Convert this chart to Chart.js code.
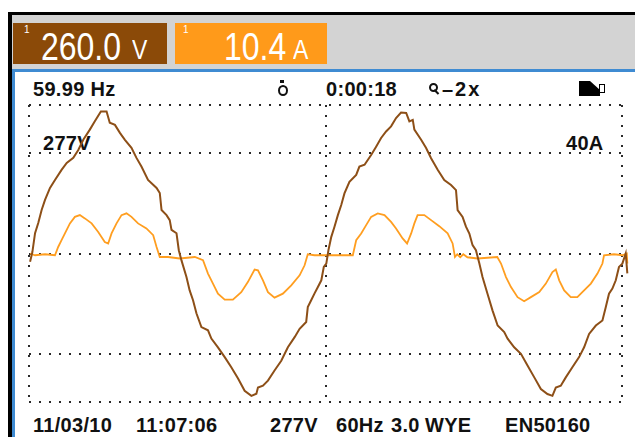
<!DOCTYPE html>
<html><head><meta charset="utf-8">
<script src="https://cdn.jsdelivr.net/npm/chart.js@4.4.0/dist/chart.umd.min.js"></script>
<style>
html,body{margin:0;padding:0;background:#fff;width:635px;height:437px;overflow:hidden;position:relative;font-family:"Liberation Sans",Arial,sans-serif;}
.abs{position:absolute;}
#frame{left:8px;top:12px;width:627px;height:425px;background:#000;}
#gray{left:12px;top:15px;width:623px;height:54px;background:#d3d3d3;}
#blue{left:12px;top:69px;width:623px;height:368px;background:#3f8bd2;}
#white{left:15px;top:72px;width:620px;height:365px;background:#fff;}
.box{top:23px;height:41px;}
#bV{left:13px;width:154px;background:#8b4a08;}
#bA{left:175px;width:152px;background:#ff9a1a;}
.big{color:#fff;font-size:39px;line-height:39px;transform:scaleX(0.82);transform-origin:0 0;white-space:nowrap;}
.unit{color:#fff;font-size:28px;line-height:28px;transform:scaleX(0.82);transform-origin:0 0;}
.sup{color:#fff;font-size:10px;line-height:10px;}
.t{font-weight:bold;font-size:20px;line-height:20px;color:#111;white-space:nowrap;letter-spacing:0.3px;}
#sw{left:278px;top:85px;width:6px;height:7px;border:2px solid #111;border-radius:50%;}
#swk{left:280px;top:80px;width:4px;height:3px;background:#111;}
#mg{left:429px;top:83px;width:5px;height:5px;border:2px solid #111;border-radius:50%;}
#mgh{left:435px;top:89px;width:6px;height:2px;background:#111;transform:rotate(45deg);transform-origin:0 0;}
#bat{left:579px;top:81px;width:21px;height:15px;background:#000;}
#batn{left:599px;top:84px;width:4px;height:7px;border:1.5px solid #000;background:#fff;}
#batw{left:590px;top:81px;width:0;height:0;border-left:10px solid transparent;border-top:9px solid #fff;}
canvas{position:absolute;left:0;top:0;}
</style>
</head>
<body>
<div id="frame" class="abs"></div>
<div id="gray" class="abs"></div>
<div id="blue" class="abs"></div>
<div id="white" class="abs"></div>
<div id="bV" class="abs box"></div>
<div id="bA" class="abs box"></div>
<div class="abs sup" style="left:24px;top:25px">1</div>
<div class="abs big" style="left:41px;top:27px">260.0</div>
<div class="abs unit" style="left:132px;top:36px">V</div>
<div class="abs sup" style="left:183px;top:25px">1</div>
<div class="abs big" style="left:224px;top:27px">10.4</div>
<div class="abs unit" style="left:293px;top:36px">A</div>

<div class="abs t" style="left:33px;top:79px">59.99 Hz</div>
<div id="swk" class="abs"></div>
<div id="sw" class="abs"></div>
<div class="abs t" style="left:326px;top:79px">0:00:18</div>
<div id="mg" class="abs"></div>
<div id="mgh" class="abs"></div>
<div class="abs t" style="left:442px;top:79px;letter-spacing:2px">–2x</div>
<div id="bat" class="abs"></div>
<div id="batw" class="abs"></div>
<div id="batn" class="abs"></div>

<div class="abs t" style="left:43px;top:133px">277V</div>
<div class="abs t" style="left:566px;top:133px">40A</div>

<div class="abs t" style="left:33px;top:415px">11/03/10</div>
<div class="abs t" style="left:136px;top:415px">11:07:06</div>
<div class="abs t" style="left:270px;top:415px">277V</div>
<div class="abs t" style="left:336px;top:415px">60Hz</div>
<div class="abs t" style="left:391px;top:415px">3.0</div>
<div class="abs t" style="left:425px;top:415px">WYE</div>
<div class="abs t" style="left:505px;top:415px">EN50160</div>

<canvas id="c" width="635" height="437"></canvas>
<script>
// time in ms
const VOLT_TIME = [0.06,0.19,0.34,0.52,0.71,0.90,1.18,1.46,1.83,2.12,
2.49,2.77,3.05,3.42,3.70,4.04,4.36,4.54,4.83,5.11,
5.39,5.76,6.04,6.32,6.69,7.17,7.35,7.45,7.73,7.91,
8.01,8.29,8.42,8.57,8.85,9.03,9.22,9.41,9.69,10.06,
10.25,10.62,11.00,11.37,11.75,12.12,12.50,12.78,12.87,13.15,
13.43,13.80,14.18,14.55,14.93,15.21,15.58,15.67,15.86,16.05,
16.23,16.43,16.57,16.71,16.83,16.99,17.17,17.36,17.55,17.73,
18.01,18.39,18.57,18.86,19.23,19.51,19.79,20.07,20.35,20.63,
20.91,21.20,21.38,21.57,21.66,22.04,22.32,22.60,22.97,23.34,
23.72,24.00,24.09,24.37,24.56,24.75,24.93,25.12,25.31,25.49,
25.77,26.05,26.34,26.71,26.90,27.27,27.65,28.02,28.40,28.77,
29.14,29.42,29.61,29.89,30.17,30.54,30.92,31.20,31.48,31.86,
32.23,32.42,32.60,32.79,32.98,33.16,33.35,33.54,33.63];
// volts
const VOLTS = [-23,4,56,84,120,148,181,203,231,250,
264,286,314,342,365,392,392,361,355,333,
314,292,264,240,203,181,167,120,106,92,
65,56,9,-19,-65,-102,-129,-165,-203,-212,
-235,-259,-286,-314,-345,-379,-393,-387,-370,-365,
-351,-323,-296,-259,-231,-208,-189,-148,-129,-110,
-93,-74,-37,-28,9,46,74,106,134,166,
198,217,240,245,272,295,319,337,351,374,
389,388,365,369,342,314,291,263,231,203,
189,175,120,101,74,55,23,9,-27,-65,
-111,-157,-199,-217,-235,-259,-277,-309,-342,-374,
-388,-393,-370,-365,-342,-314,-286,-259,-222,-199,
-185,-148,-111,-97,-74,-37,-28,0,-55];
const AMP_TIME = [0.06,0.34,0.90,1.46,1.64,1.83,2.02,2.30,2.58,2.86,
3.14,3.52,3.89,4.26,4.45,4.64,4.92,5.20,5.48,5.76,
6.13,6.60,6.98,7.17,7.35,7.82,8.47,9.32,9.78,10.06,
10.34,10.62,11.00,11.46,11.93,12.30,12.68,12.87,13.15,13.43,
13.80,14.27,14.74,15.21,15.49,15.67,16.05,16.52,18.20,18.39,
18.67,18.95,19.23,19.60,19.98,20.35,20.63,21.00,21.25,21.48,
21.66,21.84,22.22,22.60,23.06,23.53,23.81,23.94,24.07,24.24,
24.41,24.64,25.21,26.32,26.53,26.81,27.09,27.46,27.83,28.21,
28.68,29.05,29.42,29.61,29.80,30.08,30.45,30.82,31.20,31.58,
31.95,32.23,32.32,32.88,33.35,33.60,33.63];
const AMPS = [0,-0.7,-0.3,-0.7,2.6,5.3,8.0,12.0,14.6,15.3,
14.0,12.0,8.6,4.6,4.0,8.0,12.0,15.3,16.0,14.6,
12.0,10.0,7.3,2.6,-1.4,-1.4,-2.0,-1.4,-2.7,-8.0,
-12.0,-16.0,-18.4,-18.4,-15.4,-11.4,-6.4,-6.7,-10.7,-15.4,
-17.6,-16.0,-12.7,-8.7,-4.7,-0.3,-0.7,-0.7,-0.7,5.3,
8.0,11.3,14.6,16.0,15.3,12.6,10.0,6.0,4.0,8.0,
12.0,15.3,15.3,13.3,10.9,8.0,4.0,-1.4,-0.3,-1.5,
-0.3,-1.5,-2.0,-1.4,-4.0,-9.4,-13.4,-17.4,-19.0,-17.4,
-15.4,-12.0,-7.4,-6.4,-10.7,-14.7,-17.4,-17.4,-14.7,-12.0,
-8.0,-4.0,-0.7,-0.3,-0.7,0,-4.0];
const X_RANGE = [0, 33.33];
const X_GRID = [0, 16.67, 33.33];
const V_RANGE = [-410, 410];
const V_GRID = [-410, -277, 0, 277, 410];
const I_RANGE = [-59.2, 59.2];

const voltPts = VOLT_TIME.map((t, i) => ({x: t, y: VOLTS[i]}));
const ampPts = AMP_TIME.map((t, i) => ({x: t, y: AMPS[i]}));
const dots = {display: false, dash: [2, 8]};
const grid = {color: '#2a2a2a', lineWidth: 2, drawTicks: false};

new Chart(document.getElementById('c'), {
  type: 'line',
  data: {datasets: [
    {label: 'Voltage (V)', data: voltPts, yAxisID: 'y', borderColor: '#8d4f17', borderWidth: 2, pointRadius: 0, tension: 0, clip: false},
    {label: 'Current (A)', data: ampPts, yAxisID: 'yI', borderColor: '#ff9e20', borderWidth: 1.8, pointRadius: 0, tension: 0, clip: false}
  ]},
  options: {
    responsive: false, animation: false, devicePixelRatio: 1, events: [],
    layout: {padding: {left: 29, top: 105, right: 13, bottom: 35}},
    plugins: {legend: {display: false}, tooltip: {enabled: false}},
    scales: {
      x: {type: 'linear', bounds: 'data',
          afterDataLimits: s => { s.min = X_RANGE[0]; s.max = X_RANGE[1]; },
          afterBuildTicks: s => { s.ticks = X_GRID.map(v => ({value: v})); },
          ticks: {display: false}, grid: grid, border: dots},
      y: {type: 'linear', position: 'left', min: V_RANGE[0], max: V_RANGE[1],
          afterBuildTicks: s => { s.ticks = V_GRID.map(v => ({value: v})); },
          ticks: {display: false}, grid: grid, border: dots},
      yI: {type: 'linear', display: false, min: I_RANGE[0], max: I_RANGE[1]}
    }
  }
});
</script>
</body></html>
